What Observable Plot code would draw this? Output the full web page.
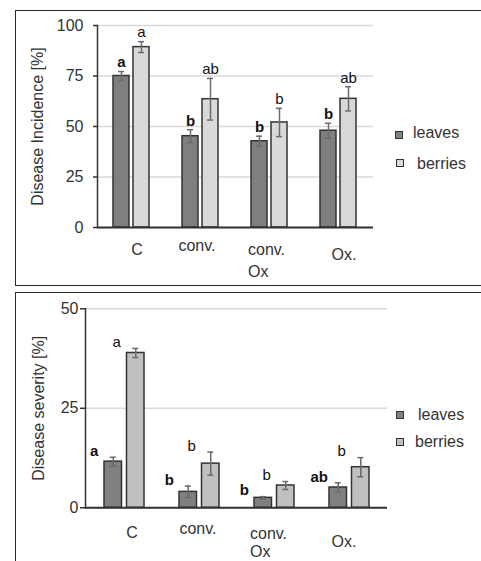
<!DOCTYPE html>
<html>
<head>
<meta charset="utf-8">
<script src="https://cdn.jsdelivr.net/npm/d3@7"></script>
<script src="https://cdn.jsdelivr.net/npm/@observablehq/plot@0.6"></script>
<style>
  html, body { margin: 0; padding: 0; background: #fff; }
  #root { position: relative; width: 481px; height: 561px; overflow: hidden; font-family: "Liberation Sans", Arial, sans-serif; }
  .panel { position: absolute; border: 1.5px solid #2a2a2a; box-sizing: border-box; pointer-events: none; }
  .chart { position: absolute; left: 0; }
  .chart svg { background: transparent; }
  .leg { position: absolute; font-size: 16px; line-height: 18px; color: #333; white-space: nowrap; }
  .sw { position: absolute; width: 8px; height: 8px; box-sizing: border-box; border: 1.5px solid #333; }
</style>
</head>
<body>
<div id="root">
  <div class="chart" id="top" style="top:0"></div>
  <div class="chart" id="bottom" style="top:290px"></div>
  <div class="panel" style="left:15px; top:10px; width:480px; height:276px;"></div>
  <div class="panel" style="left:15px; top:292px; width:480px; height:300px;"></div>

  <div class="sw" style="left:395px; top:131px; background:#7f7f7f"></div>
  <div class="leg" style="left:413px; top:124px">leaves</div>
  <div class="sw" style="left:396px; top:159px; background:#d9d9d9"></div>
  <div class="leg" style="left:417px; top:155px">berries</div>

  <div class="sw" style="left:396px; top:411px; background:#808080"></div>
  <div class="leg" style="left:418px; top:406px">leaves</div>
  <div class="sw" style="left:396px; top:438px; background:#c0c0c0"></div>
  <div class="leg" style="left:415px; top:433px">berries</div>
</div>
<script>
// ---- data ----
const groups = ["C", "conv.", "conv. Ox", "Ox."];
const groupLabels = ["C", "conv.", "conv.\nOx", "Ox."];
const series = ["leaves", "berries"];

const incidenceLeaves = [75, 45.2, 42.7, 47.9];
const incidenceLeavesErr = [2.2, 3.2, 2.5, 3.7];
const incidenceLeavesLetters = ["a", "b", "b", "b"];
const incidenceBerries = [89.3, 63.5, 52, 63.7];
const incidenceBerriesErr = [2.7, 10.3, 7, 6];
const incidenceBerriesLetters = ["a", "ab", "b", "ab"];
const incidenceTicks = [0, 25, 50, 75, 100];

const severityLeaves = [11.6, 4.0, 2.5, 5.1];
const severityLeavesErr = [1.1, 1.45, 0.3, 1.2];
const severityLeavesLetters = ["a", "b", "b", "ab"];
const severityBerries = [38.9, 11.1, 5.6, 10.2];
const severityBerriesErr = [1.15, 2.9, 1.0, 2.4];
const severityBerriesLetters = ["a", "b", "b", "b"];
const severityTicks = [0, 25, 50];

function rows(values, errs, letters) {
  return groups.map((g, i) => ({group: g, value: values[i], err: errs[i], letter: letters[i]}));
}
const labelOf = g => groupLabels[groups.indexOf(g)];

function xLabel(group, dx, pad, extra = {}) {
  return Plot.axisX({
    ticks: [group], tickSize: 0, tickPadding: pad, dx, tickFormat: labelOf,
    fontSize: 16, fill: "#333", lineAnchor: "top", label: null, ...extra
  });
}

function chart(cfg) {
  const L = rows(cfg.leaves, cfg.leavesErr, cfg.leavesLetters);
  const B = rows(cfg.berries, cfg.berriesErr, cfg.berriesLetters);
  const bw = cfg.bandwidth, w = cfg.barWidth, cap = 6;
  const cL = w / 2, cB = bw - w / 2;            // bar centers within band
  const offL = cL - bw / 2, offB = cB - bw / 2;  // offsets from band center
  return Plot.plot({
    width: 481, height: cfg.height,
    marginLeft: cfg.marginLeft, marginRight: cfg.marginRight,
    marginTop: cfg.marginTop, marginBottom: cfg.marginBottom,
    style: {fontFamily: "Liberation Sans, Arial, sans-serif", fontSize: "16px", background: "transparent", overflow: "visible"},
    x: {domain: groups, paddingInner: cfg.padding, paddingOuter: cfg.padding / 2, axis: null},
    y: {domain: cfg.yDomain, axis: null},
    marks: [
      Plot.gridY(cfg.ticks, {stroke: "#d9d9d9", strokeOpacity: 1, strokeWidth: 1.5}),
      Plot.axisY({ticks: cfg.ticks, tickSize: cfg.tickSize, tickPadding: cfg.tickPadding, stroke: "#333", strokeWidth: 1.5,
        fontSize: 16, fill: "#333", label: cfg.label, labelAnchor: "center", labelOffset: cfg.labelOffset, labelArrow: "none"}),
      Plot.frame({anchor: "left", stroke: "#333", strokeWidth: 1.5}),
      Plot.barY(L, {x: "group", y: "value", insetRight: bw - w, fill: cfg.leavesColor, stroke: "#333", strokeWidth: 1.5}),
      Plot.barY(B, {x: "group", y: "value", insetLeft: bw - w, fill: cfg.berriesColor, stroke: "#333", strokeWidth: 1.5}),
      Plot.ruleX(L, {x: "group", y1: d => d.value - d.err, y2: d => d.value + d.err, dx: offL, stroke: "#6b6b6b", strokeWidth: 1.5}),
      Plot.ruleX(B, {x: "group", y1: d => d.value - d.err, y2: d => d.value + d.err, dx: offB, stroke: "#6b6b6b", strokeWidth: 1.5}),
      ...[d => d.value - d.err, d => d.value + d.err].flatMap(yv => [
        Plot.tickY(L, {x: "group", y: yv, insetLeft: cL - cap / 2, insetRight: bw - cL - cap / 2, stroke: "#6b6b6b", strokeWidth: 1.5}),
        Plot.tickY(B, {x: "group", y: yv, insetLeft: cB - cap / 2, insetRight: bw - cB - cap / 2, stroke: "#6b6b6b", strokeWidth: 1.5})
      ]),
      Plot.text(L, {x: "group", y: d => d.value + d.err, text: "letter", dx: offL + cfg.letterDx, dy: cfg.letterDy,
        fontSize: 15, fontWeight: "bold", fill: "#111", lineAnchor: "middle"}),
      Plot.text(B, {x: "group", y: d => d.value + d.err, text: "letter", dx: offB + cfg.letterDx, dy: cfg.letterDy,
        fontSize: 15, fill: "#111", lineAnchor: "middle"}),
      Plot.ruleY([0], {stroke: "#333", strokeWidth: 2}),
      ...cfg.xLabels.map(([g, dx, pad, extra]) => xLabel(g, dx, pad, extra))
    ]
  });
}

document.getElementById("top").append(chart({
  height: 285, marginLeft: 97, marginRight: 108, marginTop: 25, marginBottom: 58,
  padding: 0.478, bandwidth: 36, barWidth: 16,
  yDomain: [0, 100], ticks: incidenceTicks, tickSize: 4, tickPadding: 10,
  label: "Disease Incidence [%]", labelOffset: 66,
  leaves: incidenceLeaves, leavesErr: incidenceLeavesErr, leavesLetters: incidenceLeavesLetters,
  berries: incidenceBerries, berriesErr: incidenceBerriesErr, berriesLetters: incidenceBerriesLetters,
  leavesColor: "#7f7f7f", berriesColor: "#d9d9d9",
  letterDx: 0, letterDy: -9,
  xLabels: [["C", 5.5, 16], ["conv.", -3.5, 12], ["conv. Ox", -21.5, 12, {textAnchor: "start", lineHeight: 1.37}], ["Ox.", 5.5, 21]]
}));

document.getElementById("bottom").append(chart({
  height: 271, marginLeft: 85, marginRight: 94, marginTop: 18.3, marginBottom: 53.7,
  padding: 0.47, bandwidth: 40, barWidth: 17.5,
  yDomain: [0, 50], ticks: severityTicks, tickSize: 5, tickPadding: 2,
  label: "Disease severity [%]", labelOffset: 53,
  leaves: severityLeaves, leavesErr: severityLeavesErr, leavesLetters: severityLeavesLetters,
  berries: severityBerries, berriesErr: severityBerriesErr, berriesLetters: severityBerriesLetters,
  leavesColor: "#808080", berriesColor: "#c0c0c0",
  letterDx: -19, letterDy: -6,
  xLabels: [["C", 7.5, 18.4], ["conv.", -1.5, 14.5], ["conv. Ox", -24.5, 19, {textAnchor: "start", lineHeight: 1.1}], ["Ox.", -5.5, 27.7]]
}));
</script>
</body>
</html>
